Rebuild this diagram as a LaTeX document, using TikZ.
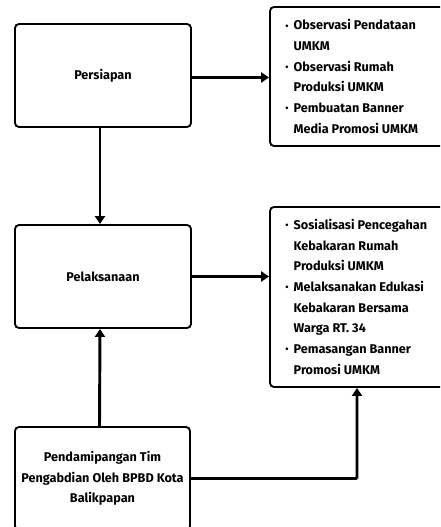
\documentclass[tikz,border=0pt]{standalone}
\usepackage{fontspec}
\setmainfont{Fira Sans}
\usetikzlibrary{arrows.meta}
\newcommand{\smbul}{\raisebox{0.6pt}{\fontsize{7}{7}\selectfont\textbullet}}
\begin{document}
\begin{tikzpicture}[x=0.75pt,y=-0.75pt,
  box/.style={draw=black,line width=1.4pt,rounded corners=3pt,inner sep=0pt,
    font=\fontsize{9.5}{15.5}\selectfont\bfseries,align=center},
  conn/.style={line width=2.2pt,-{Triangle[length=6pt,width=7.5pt]}},
  lst/.style={inner sep=0pt,anchor=base west,font=\fontsize{9.5}{15.5}\selectfont\bfseries}]
\useasboundingbox (0,0) rectangle (440,527);
\begin{scope}
\clip (0,0) rectangle (440,527);
\node[box,minimum width=176*0.75pt,minimum height=103*0.75pt] (p) at (103,75.5) {Persiapan};
\node[box,minimum width=176*0.75pt,minimum height=103*0.75pt] (pl) at (103,276.5) {Pelaksanaan};
\node[box,minimum width=175*0.75pt,minimum height=103*0.75pt] (b) at (102.5,478.5) {Pendamipangan Tim\\Pengabdian Oleh BPBD Kota\\Balikpapan};
\node[box,minimum width=176*0.75pt,minimum height=139*0.75pt] (r1) at (358,76.5) {};
\node[box,minimum width=176*0.75pt,minimum height=180*0.75pt] (r2) at (358,297) {};
\end{scope}
\node[lst] (t1) at (285,30) {\begin{tabular}[t]{@{}p{6.3pt}@{}l@{}}
\smbul & Observasi Pendataan\\
 & UMKM\\
\smbul & Observasi Rumah\\
 & Produksi UMKM\\
\smbul & Pembuatan Banner\\
 & Media Promosi UMKM
\end{tabular}};
\node[lst] (t2) at (285,229.5) {\begin{tabular}[t]{@{}p{6.3pt}@{}l@{}}
\smbul & Sosialisasi Pencegahan\\
 & Kebakaran Rumah\\
 & Produksi UMKM\\
\smbul & Melaksanakan Edukasi\\
 & Kebakaran Bersama\\
 & Warga RT. 34\\
\smbul & Pemasangan Banner\\
 & Promosi UMKM
\end{tabular}};
\draw[conn] ([yshift=-2*0.75pt]p.east) -- ([yshift=-2*0.75pt]p.east -| r1.west);
\draw[conn] (pl.east) -- (pl.east -| r2.west);
\draw[conn] ([xshift=-3*0.75pt]p.south) -- ([xshift=-3*0.75pt]pl.north);
\draw[conn] ([xshift=-3*0.75pt]b.north) -- ([xshift=-3*0.75pt]pl.south);
\draw[conn,rounded corners=1pt] (b.east) -| ([xshift=-1*0.75pt]r2.south);
\end{tikzpicture}
\end{document}
